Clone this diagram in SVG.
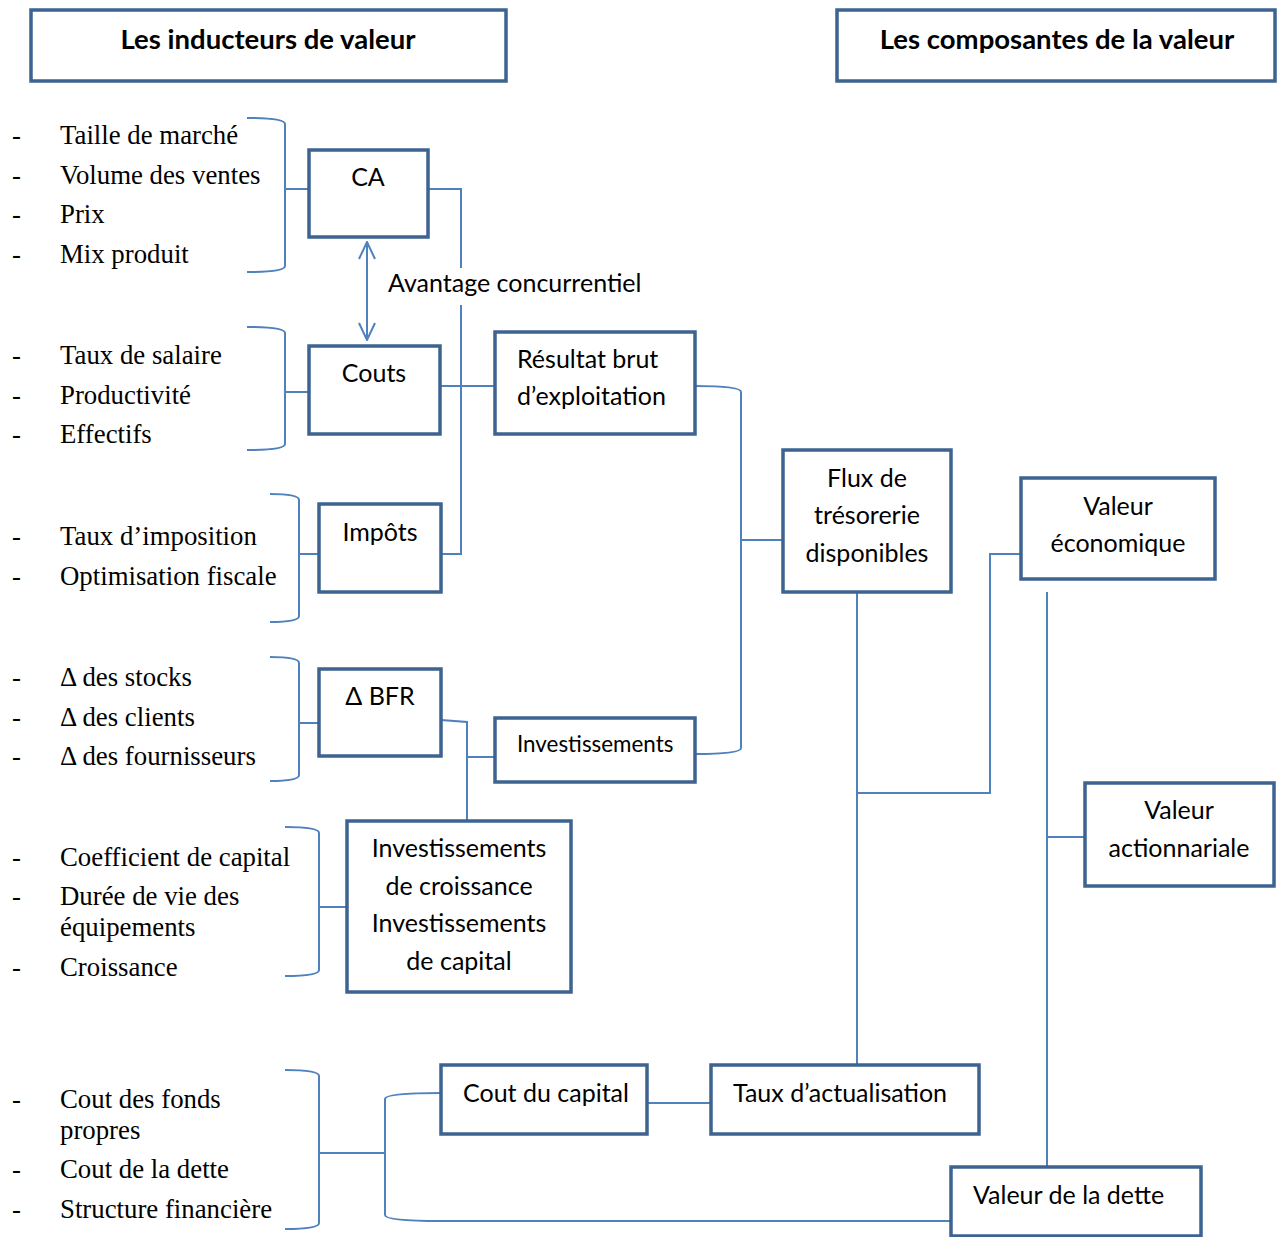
<svg xmlns="http://www.w3.org/2000/svg" width="1277" height="1237" viewBox="0 0 1277 1237">
  <style>
    .box { fill: #ffffff; stroke: #3d6391; stroke-width: 3.5; }
    .link { fill: none; stroke: #4f81bd; stroke-width: 2; }
    .hdr { font-family: Lato, "Open Sans", sans-serif; font-weight: bold; font-size: 27.5px; fill: #000; text-anchor: middle; }
    .lbl { font-family: Lato, "Open Sans", sans-serif; font-size: 25px; fill: #000; }
    .mid { text-anchor: middle; }
    .item { font-family: "Liberation Serif", "Times New Roman", serif; font-size: 26.8px; fill: #000; }
  </style>
  <defs>
    <marker id="arrow" viewBox="0 0 20 20" refX="19" refY="10" markerWidth="20" markerHeight="20" markerUnits="userSpaceOnUse" orient="auto-start-reverse">
      <path d="M2,2 L19,10 L2,18" fill="none" stroke="#4f81bd" stroke-width="2"/>
    </marker>
  </defs>

  <!-- Headers -->
  <g id="header-inducteurs">
    <rect class="box" x="31" y="10" width="475" height="71"/>
    <text class="hdr" x="268" y="49">Les inducteurs de valeur</text>
  </g>
  <g id="header-composantes">
    <rect class="box" x="837" y="10" width="438" height="71"/>
    <text class="hdr" x="1057" y="49">Les composantes de la valeur</text>
  </g>

  <!-- Connectors and brackets -->
  <g id="connectors">
    <!-- brackets grouping the driver lists -->
    <path class="link" d="M247,118 Q285,118 285,124 L285,266 Q285,272 247,272 M285,189 L309,189"/>
    <path class="link" d="M247,327 Q285,327 285,333 L285,444 Q285,450 247,450 M285,392 L309,392"/>
    <path class="link" d="M270,494 Q299,494 299,500 L299,616 Q299,622 270,622 M299,554 L319,554"/>
    <path class="link" d="M270,657 Q299,657 299,663 L299,775 Q299,781 270,781 M299,723 L319,723"/>
    <path class="link" d="M285,827 Q319,827 319,833 L319,970 Q319,976 285,976 M319,907 L347,907"/>
    <path class="link" d="M285,1070 Q319,1070 319,1076 L319,1223 Q319,1229 285,1229 M319,1153 L385,1153"/>

    <!-- CA / Impôts feed into the Couts line -->
    <path class="link" d="M428,189 L461,189 L461,268 M461,305 L461,554 L442,554"/>
    <path class="link" d="M367,242 L367,340" marker-start="url(#arrow)" marker-end="url(#arrow)"/>
    <path class="link" d="M440,386 L495,386"/>

    <!-- Résultat brut and Investissements into Flux -->
    <path class="link" d="M695,386 Q741,386 741,392 L741,748 Q741,754 695,754 M741,540 L783,540"/>

    <!-- ΔBFR and investments -->
    <path class="link" d="M441,720 L467,722 L467,820 M467,757 L495,757"/>

    <!-- Flux to valuations -->
    <path class="link" d="M857,592 L857,1088 M857,793 L990,793 L990,554 L1021,554"/>
    <path class="link" d="M1047,592 L1047,1167 M1047,837 L1085,837"/>

    <!-- Cost of capital branch -->
    <path class="link" d="M441,1093 Q385,1093 385,1099 L385,1215 Q385,1221 441,1221 L951,1221"/>
    <path class="link" d="M647,1103 L711,1103"/>
  </g>

  <!-- Driver lists -->
  <g id="list-ca" class="item">
    <text x="12" y="144">-</text><text x="60" y="144">Taille de marché</text>
    <text x="12" y="184">-</text><text x="60" y="184">Volume des ventes</text>
    <text x="12" y="223">-</text><text x="60" y="223">Prix</text>
    <text x="12" y="263">-</text><text x="60" y="263">Mix produit</text>
  </g>
  <g id="list-couts" class="item">
    <text x="12" y="364">-</text><text x="60" y="364">Taux de salaire</text>
    <text x="12" y="404">-</text><text x="60" y="404">Productivité</text>
    <text x="12" y="443">-</text><text x="60" y="443">Effectifs</text>
  </g>
  <g id="list-impots" class="item">
    <text x="12" y="545">-</text><text x="60" y="545">Taux d’imposition</text>
    <text x="12" y="585">-</text><text x="60" y="585">Optimisation fiscale</text>
  </g>
  <g id="list-bfr" class="item">
    <text x="12" y="686">-</text><text x="60" y="686">Δ des stocks</text>
    <text x="12" y="726">-</text><text x="60" y="726">Δ des clients</text>
    <text x="12" y="765">-</text><text x="60" y="765">Δ des fournisseurs</text>
  </g>
  <g id="list-invest" class="item">
    <text x="12" y="866">-</text><text x="60" y="866">Coefficient de capital</text>
    <text x="12" y="905">-</text><text x="60" y="905">Durée de vie des</text>
    <text x="60" y="936">équipements</text>
    <text x="12" y="976">-</text><text x="60" y="976">Croissance</text>
  </g>
  <g id="list-capital" class="item">
    <text x="12" y="1108">-</text><text x="60" y="1108">Cout des fonds</text>
    <text x="60" y="1139">propres</text>
    <text x="12" y="1178">-</text><text x="60" y="1178">Cout de la dette</text>
    <text x="12" y="1218">-</text><text x="60" y="1218">Structure financière</text>
  </g>

  <!-- Edge label -->
  <text id="label-avantage" class="lbl" x="388" y="292">Avantage concurrentiel</text>

  <!-- Nodes -->
  <g id="node-ca">
    <rect class="box" x="309" y="150" width="119" height="87"/>
    <text class="lbl mid" x="368" y="186">CA</text>
  </g>
  <g id="node-couts">
    <rect class="box" x="309" y="346" width="131" height="88"/>
    <text class="lbl mid" x="374" y="382">Couts</text>
  </g>
  <g id="node-impots">
    <rect class="box" x="319" y="504" width="122" height="88"/>
    <text class="lbl mid" x="380" y="541">Impôts</text>
  </g>
  <g id="node-bfr">
    <rect class="box" x="319" y="669" width="122" height="87"/>
    <text class="lbl mid" x="380" y="705">Δ BFR</text>
  </g>
  <g id="node-invest-croissance">
    <rect class="box" x="347" y="821" width="224" height="171"/>
    <text class="lbl mid" x="459" y="857">Investissements</text>
    <text class="lbl mid" x="459" y="895">de croissance</text>
    <text class="lbl mid" x="459" y="932">Investissements</text>
    <text class="lbl mid" x="459" y="970">de capital</text>
  </g>
  <g id="node-resultat">
    <rect class="box" x="495" y="332" width="200" height="102"/>
    <text class="lbl" x="517" y="368">Résultat brut</text>
    <text class="lbl" x="517" y="405">d’exploitation</text>
  </g>
  <g id="node-investissements">
    <rect class="box" x="495" y="718" width="200" height="64"/>
    <text class="lbl" x="517" y="752" style="font-size:22.4px">Investissements</text>
  </g>
  <g id="node-flux">
    <rect class="box" x="783" y="450" width="168" height="142"/>
    <text class="lbl mid" x="867" y="487">Flux de</text>
    <text class="lbl mid" x="867" y="524">trésorerie</text>
    <text class="lbl mid" x="867" y="562">disponibles</text>
  </g>
  <g id="node-valeur-eco">
    <rect class="box" x="1021" y="478" width="194" height="101"/>
    <text class="lbl mid" x="1118" y="515">Valeur</text>
    <text class="lbl mid" x="1118" y="552">économique</text>
  </g>
  <g id="node-valeur-action">
    <rect class="box" x="1085" y="783" width="189" height="103"/>
    <text class="lbl mid" x="1179" y="819">Valeur</text>
    <text class="lbl mid" x="1179" y="857">actionnariale</text>
  </g>
  <g id="node-cout-capital">
    <rect class="box" x="441" y="1065" width="206" height="69"/>
    <text class="lbl" x="463" y="1102">Cout du capital</text>
  </g>
  <g id="node-taux">
    <rect class="box" x="711" y="1065" width="268" height="69"/>
    <text class="lbl" x="733" y="1102">Taux d’actualisation</text>
  </g>
  <g id="node-dette">
    <rect class="box" x="951" y="1167" width="250" height="69"/>
    <text class="lbl" x="973" y="1204">Valeur de la dette</text>
  </g>
</svg>
